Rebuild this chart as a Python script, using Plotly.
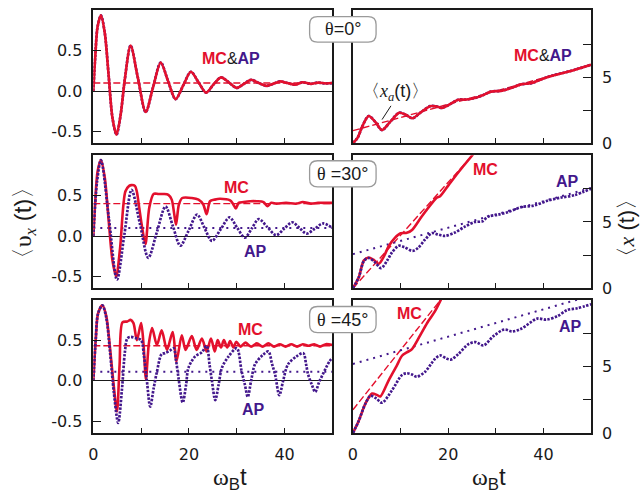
import plotly.graph_objects as go
from plotly.subplots import make_subplots

RED = "#e3102d"
PURPLE = "#43188c"
INK = "#1a1a1a"
W, H = 641, 504

# ---------------- theta = 0 deg (MC and AP coincide) ----------------
t_v0 = [0, 0.4, 0.9, 1.6, 2.4, 3.2, 4.0, 4.85, 5.7, 6.6, 7.8, 9.3, 10.95, 12.5, 14.1, 15.6, 17.2, 18.8,
        20.4, 22.0, 23.6, 25.1, 26.7, 28.3, 30.0, 31.5, 33.0, 34.6, 36.2, 37.6, 39.0, 40.6, 42.2, 43.8,
        45.4, 47.0, 48.6, 50]
v0 = [0, 0.42, 0.8, 0.94, 0.72, 0.2, -0.33, -0.54, -0.3, 0.15, 0.565, 0.17, -0.26, 0.05, 0.355, 0.13, -0.10,
      0.07, 0.24, 0.11, -0.02, 0.08, 0.17, 0.11, 0.04, 0.09, 0.14, 0.10, 0.065, 0.09, 0.12, 0.10, 0.08, 0.11,
      0.09, 0.105, 0.095, 0.1]
vd0 = [0.1, 0.1]

t_x0 = [0, 1.0, 2.0, 3.3, 4.7, 6.1, 7.9, 9.7, 11.1, 12.5, 14.3, 16.2, 17.5, 18.7, 20.4, 22.1, 23.8, 25.5,
        27.2, 29.0, 31.0, 33.0, 35.3, 37.5, 40.0, 42.2, 44.5, 47.0, 50]
x0 = [0, 0.42, 1.3, 2.05, 1.6, 0.99, 1.65, 2.3, 2.15, 1.88, 2.35, 2.8, 2.78, 2.67, 2.95, 3.29, 3.3, 3.41,
      3.62, 3.91, 3.95, 4.15, 4.45, 4.55, 4.9, 5.15, 5.35, 5.6, 5.94]
xa0_t = [0, 50]
xa0 = [0.94, 5.94]

# ---------------- theta = 30 deg ----------------
t_mc30 = [0, 0.4, 0.9, 1.6, 2.4, 3.2, 4.0, 4.8, 5.6, 6.7, 7.5, 8.0, 8.7, 9.1, 9.6, 10.2, 10.9, 11.7, 12.6,
          13.6, 14.7, 15.7, 16.4, 16.9, 17.3, 17.9, 18.6, 20.6, 22.0, 23.0, 23.7, 24.4, 25.4, 26.5, 28.6,
          29.2, 29.8, 30.4, 31.4, 32.8, 34.2, 35.6, 36.4, 37.2, 38.3, 40.3, 42.4, 43.8, 45.5, 47.0, 48.5, 50]
v_mc30 = [0, 0.42, 0.8, 0.94, 0.72, 0.2, -0.3, -0.5, -0.15, 0.55, 0.62, 0.63, 0.62, 0.55, 0.35, 0.11, -0.1,
          0.35, 0.52, 0.52, 0.52, 0.51, 0.45, 0.28, 0.14, 0.39, 0.47, 0.47, 0.45, 0.39, 0.27, 0.43, 0.45,
          0.46, 0.44, 0.4, 0.34, 0.41, 0.42, 0.43, 0.43, 0.42, 0.37, 0.41, 0.4, 0.41, 0.4, 0.42, 0.4, 0.41,
          0.41, 0.41]
t_ap30 = [0, 0.8, 1.6, 3.3, 4.95, 6.5, 8.0, 9.75, 11.5, 13.3, 15.1, 16.65, 18.2, 19.95, 21.7, 23.25, 24.8,
          26.65, 28.5, 30.1, 31.7, 33.15, 34.6, 36.4, 38.2, 39.9, 41.6, 43.1, 44.6, 46.3, 48.0, 50]
v_ap30 = [0, 0.68, 0.94, 0.2, -0.54, 0.02, 0.57, 0.15, -0.27, 0.05, 0.365, 0.12, -0.12, 0.07, 0.265, 0.1,
          -0.06, 0.085, 0.23, 0.1, -0.02, 0.095, 0.21, 0.11, 0.01, 0.09, 0.17, 0.1, 0.03, 0.09, 0.155, 0.1]
vd_mc30 = [0.4, 0.4]
vd_ap30 = [0.1, 0.1]

t_xmc30 = [0, 1.2, 2.3, 3.3, 4.3, 5.45, 6.5, 7.5, 8.8, 10.0, 11.3, 12.4, 14.4, 16.5, 17.6, 18.3, 20.0, 22.1, 25.2]
x_mc30 = [0, 0.8, 2.1, 2.32, 2.15, 1.85, 2.4, 3.17, 3.8, 4.15, 4.18, 4.4, 5.4, 6.39, 6.84, 6.95, 7.75, 8.74, 10.1]
t_xap30 = [0, 1.2, 2.3, 3.3, 4.5, 5.9, 7.2, 8.2, 9.6, 10.8, 12.5, 13.7, 15.1, 16.6, 17.9, 19.3, 21.4, 23.5,
           25.6, 27.2, 28.3, 30.4, 32.5, 35.3, 38.0, 40.8, 43.6, 46.4, 50]
x_ap30 = [0, 0.8, 2.05, 2.28, 2.0, 1.52, 2.1, 2.7, 3.2, 3.1, 2.82, 3.05, 3.66, 4.16, 4.05, 3.95, 4.2, 4.65,
          5.0, 5.05, 5.4, 5.55, 5.74, 6.12, 6.24, 6.6, 6.84, 7.02, 7.52]
xd_mc30_t = [0, 26]
xd_mc30 = [0, 10.4]
xd_ap30_t = [0, 50]
xd_ap30 = [2.57, 7.57]

# ---------------- theta = 45 deg ----------------
t_mc45 = [0, 0.5, 1.0, 1.9, 2.7, 3.5, 4.2, 4.95, 5.5, 6.1, 7.1, 7.8, 8.4, 9.1, 10.0, 10.5, 11.0, 11.6, 12.3,
          13.3, 14.3, 15.4, 16.6, 17.4, 18.5, 19.3, 20.6, 21.6, 22.7, 23.7, 24.6, 25.4, 26.0, 26.7, 27.3,
          28.0, 28.6, 29.3, 29.9, 30.8, 31.8, 33.0, 34.2, 35.4, 36.6, 37.8, 39.0, 40.2, 41.4, 42.6, 43.8,
          45.0, 46.2, 47.4, 48.6, 50]
v_mc45 = [0, 0.5, 0.83, 0.93, 0.8, 0.4, -0.02, -0.38, 0.2, 0.72, 0.73, 0.75, 0.71, 0.5, 0.71, 0.45, 0.02,
          0.45, 0.65, 0.44, 0.62, 0.38, 0.6, 0.24, 0.56, 0.38, 0.55, 0.38, 0.52, 0.36, 0.52, 0.36, 0.5,
          0.41, 0.5, 0.41, 0.49, 0.41, 0.48, 0.42, 0.47, 0.42, 0.46, 0.42, 0.46, 0.42, 0.45, 0.42, 0.45,
          0.42, 0.45, 0.43, 0.45, 0.42, 0.45, 0.44]
t_ap45 = [0, 0.5, 1.0, 1.9, 2.7, 3.5, 4.3, 5.2, 6.0, 6.6, 7.1, 7.8, 9.1, 10.0, 10.6, 11.2, 11.9, 12.6, 13.3,
          14.3, 15.0, 16.0, 16.8, 17.3, 17.8, 18.7, 19.4, 19.9, 21.3, 22.7, 23.7, 24.3, 24.8, 25.5, 26.2,
          26.9, 28.3, 30.0, 31.0, 31.7, 32.3, 33.0, 33.8, 35.5, 36.6, 37.4, 38.0, 38.9, 39.7, 40.7, 42.5,
          43.9, 44.5, 44.9, 45.7, 46.4, 47.2, 48.0, 49.4, 50]
v_ap45 = [0, 0.5, 0.83, 0.93, 0.78, 0.35, -0.15, -0.52, -0.1, 0.35, 0.52, 0.54, 0.52, 0.5, 0.3, 0.0, -0.32,
          -0.1, 0.11, 0.33, 0.34, 0.37, 0.4, 0.25, 0.04, -0.27, -0.05, 0.16, 0.3, 0.35, 0.43, 0.2, 0.0,
          -0.24, -0.05, 0.16, 0.3, 0.4, 0.12, -0.05, -0.2, 0.0, 0.2, 0.32, 0.36, 0.2, 0.08, -0.18, 0.0,
          0.2, 0.3, 0.34, 0.2, 0.08, -0.05, -0.14, -0.02, 0.08, 0.24, 0.28]
vd_mc45 = [0.43, 0.43]
vd_ap45 = [0.11, 0.11]

t_xmc45 = [0, 1.2, 2.6, 4.0, 5.1, 5.75, 7.5, 9.2, 10.3, 11.3, 12.4, 14.4, 15.8, 17.2, 18.6]
x_mc45 = [0, 0.9, 2.2, 2.97, 2.85, 2.75, 3.97, 5.08, 5.82, 6.07, 6.32, 7.55, 8.42, 9.16, 10.15]
t_xap45 = [0, 1.2, 2.6, 3.7, 4.9, 6.1, 8.2, 10.3, 11.3, 12.4, 13.4, 15.1, 17.2, 18.3, 19.6, 20.5, 22.1,
           24.2, 25.7, 27.4, 29.5, 31.8, 33.4, 35.3, 38.7, 40.6, 42.9, 45.0, 47.1, 50]
x_ap45 = [0, 0.9, 2.2, 2.8, 2.6, 2.28, 3.22, 4.37, 4.5, 4.4, 4.24, 4.6, 5.57, 5.84, 5.62, 5.52, 5.94,
          6.68, 6.85, 6.6, 7.3, 7.8, 7.65, 7.85, 8.62, 8.54, 8.8, 9.27, 9.4, 9.7]
xd_mc45_t = [0, 19.5]
xd_mc45 = [1.75, 10.53]
xd_ap45_t = [0, 50]
xd_ap45 = [5.2, 10.35]

t_flat = [0, 50]

# tick marks
t_ticks = [0, 20, 40]
v_ticks = [-0.5, 0, 0.5]
v_ticklabels = ["-0.5", "0.0", "0.5"]
x_ticks = [0, 5]


def X(px):
    return px / W


def Y(py):
    return 1 - py / H


fig = make_subplots(rows=3, cols=2)

RED_SOLID = dict(color=RED, width=2.6, shape="spline", smoothing=0.8)
RED_DASH = dict(color=RED, width=1.4, dash="7px,3px")
AP_DOT = dict(color=PURPLE, width=2.7, dash="2.4px,1.4px", shape="spline", smoothing=0.9)
AP_FLAT = dict(color=PURPLE, width=2.0, dash="2px,5px")


def add(x, y, line, row, col):
    fig.add_trace(go.Scatter(x=x, y=y, mode="lines", line=line, showlegend=False,
                             hoverinfo="skip"), row=row, col=col)


# row 1
add(t_flat, vd0, RED_DASH, 1, 1)
add(t_v0, v0, AP_DOT, 1, 1)
add(t_v0, v0, RED_SOLID, 1, 1)
add(xa0_t, xa0, RED_DASH, 1, 2)
add(t_x0, x0, AP_DOT, 1, 2)
add(t_x0, x0, RED_SOLID, 1, 2)
# row 2
add(t_flat, vd_mc30, RED_DASH, 2, 1)
add(t_flat, vd_ap30, AP_FLAT, 2, 1)
add(t_mc30, v_mc30, RED_SOLID, 2, 1)
add(t_ap30, v_ap30, AP_DOT, 2, 1)
add(xd_mc30_t, xd_mc30, RED_DASH, 2, 2)
add(xd_ap30_t, xd_ap30, AP_FLAT, 2, 2)
add(t_xmc30, x_mc30, RED_SOLID, 2, 2)
add(t_xap30, x_ap30, AP_DOT, 2, 2)
# row 3
add(t_flat, vd_mc45, RED_DASH, 3, 1)
add(t_flat, vd_ap45, AP_FLAT, 3, 1)
add(t_mc45, v_mc45, RED_SOLID, 3, 1)
add(t_ap45, v_ap45, AP_DOT, 3, 1)
add(xd_mc45_t, xd_mc45, RED_DASH, 3, 2)
add(xd_ap45_t, xd_ap45, AP_FLAT, 3, 2)
add(t_xmc45, x_mc45, RED_SOLID, 3, 2)
add(t_xap45, x_ap45, AP_DOT, 3, 2)

# panel geometry
left_dom = [X(89), X(330)]
right_dom = [X(350.7), X(590.7)]
row_dom = [[Y(146), Y(10.7)], [Y(294), Y(158.3)], [Y(441.7), Y(305.7)]]

axis_common = dict(showline=True, mirror=True, linecolor=INK, linewidth=1.5, ticks="inside",
                   tickcolor=INK, tickwidth=1.2, showgrid=False, ticklabelstandoff=6,
                   tickfont=dict(family="DejaVu Sans", size=16, color=INK))

for r in range(3):
    for c in range(2):
        n = r * 2 + c + 1
        sx = "xaxis" if n == 1 else f"xaxis{n}"
        sy = "yaxis" if n == 1 else f"yaxis{n}"
        xa = dict(axis_common, domain=left_dom if c == 0 else right_dom, range=[0, 50],
                  tickvals=t_ticks, ticklen=5, showticklabels=(r == 2), zeroline=False,
                  minor=dict(ticks="inside", dtick=10, tick0=0, ticklen=5, tickwidth=1.2,
                             tickcolor=INK, showgrid=False))
        if c == 0:
            ya = dict(axis_common, domain=row_dom[r], range=[-0.645, 1.0],
                      tickvals=v_ticks, ticktext=v_ticklabels, ticklen=8,
                      zeroline=True, zerolinecolor=INK, zerolinewidth=1.2)
        else:
            ya = dict(axis_common, domain=row_dom[r], range=[0, 10.05], side="right",
                      tickvals=x_ticks, ticklen=8, zeroline=False,
                      minor=dict(ticks="inside", dtick=2.5, tick0=0, ticklen=8, tickwidth=1.2,
                                 tickcolor=INK, showgrid=False))
        fig.layout[sx].update(xa)
        fig.layout[sy].update(ya)


def rounded_box(x0, y0, x1, y1, r=8):
    pts = (f"M {X(x0 + r)},{Y(y0)} L {X(x1 - r)},{Y(y0)} Q {X(x1)},{Y(y0)} {X(x1)},{Y(y0 + r)} "
           f"L {X(x1)},{Y(y1 - r)} Q {X(x1)},{Y(y1)} {X(x1 - r)},{Y(y1)} "
           f"L {X(x0 + r)},{Y(y1)} Q {X(x0)},{Y(y1)} {X(x0)},{Y(y1 - r)} "
           f"L {X(x0)},{Y(y0 + r)} Q {X(x0)},{Y(y0)} {X(x0 + r)},{Y(y0)} Z")
    return dict(type="path", path=pts, xref="paper", yref="paper", fillcolor="white",
                line=dict(color="#9a9a9a", width=1.3), layer="above")


shapes = [rounded_box(307, 17, 374, 43), rounded_box(307, 164, 374, 190.7),
          rounded_box(307, 312.7, 374, 339.3),
          dict(type="line", xref="paper", yref="paper", x0=X(389), y0=Y(108), x1=X(380), y1=Y(122),
               line=dict(color=INK, width=1))]

SANS = "Liberation Sans"


def ann(px, py, text, size=16, family=SANS, color=INK, angle=0):
    return dict(x=X(px), y=Y(py), xref="paper", yref="paper", text=text, showarrow=False,
                xanchor="center", yanchor="middle", textangle=angle,
                font=dict(family=family, size=size, color=color))


mcap = (f"<b><span style='color:{RED}'>MC</span></b><span style='color:{INK}'>&amp;</span>"
        f"<b><span style='color:{PURPLE}'>AP</span></b>")
theta = "<span style='font-family:Liberation Serif'>θ</span>"

annotations = [
    ann(340.5, 30, f"{theta}=0°", size=18),
    ann(340.5, 177.5, f"{theta} =30°", size=18),
    ann(340.5, 326, f"{theta} =45°", size=18),
    ann(228, 60, mcap, size=16),
    ann(542, 57, mcap, size=16),
    ann(394, 94, "〈<i><span style='font-family:Liberation Serif'>x<sub>a</sub></span></i>(t)〉", size=18),
    ann(233, 191.7, "<b>MC</b>", color=RED),
    ann(252, 257, "<b>AP</b>", color=PURPLE),
    ann(484, 172.7, "<b>MC</b>", color=RED),
    ann(566.5, 185, "<b>AP</b>", color=PURPLE),
    ann(247.5, 336, "<b>MC</b>", color=RED),
    ann(250, 418, "<b>AP</b>", color=PURPLE),
    ann(408, 320, "<b>MC</b>", color=RED),
    ann(570, 333, "<b>AP</b>", color=PURPLE),
    ann(227, 488, "<span style='font-family:Liberation Serif'>ω</span><sub>B</sub>t", size=24),
    ann(488, 488, "<span style='font-family:Liberation Serif'>ω</span><sub>B</sub>t", size=24),
    ann(20, 227, "〈<span style='font-family:Liberation Serif'>υ<sub><i>x</i></sub></span> (t)〉",
        size=24, angle=-90),
    ann(626, 233, "〈<i><span style='font-family:Liberation Serif'>x</span></i> (t)〉", size=22, angle=-90),
]

fig.update_layout(width=W, height=H, margin=dict(l=0, r=0, t=0, b=0), paper_bgcolor="white",
                  plot_bgcolor="white", shapes=shapes, annotations=annotations, showlegend=False)

fig.write_html("out.html")
